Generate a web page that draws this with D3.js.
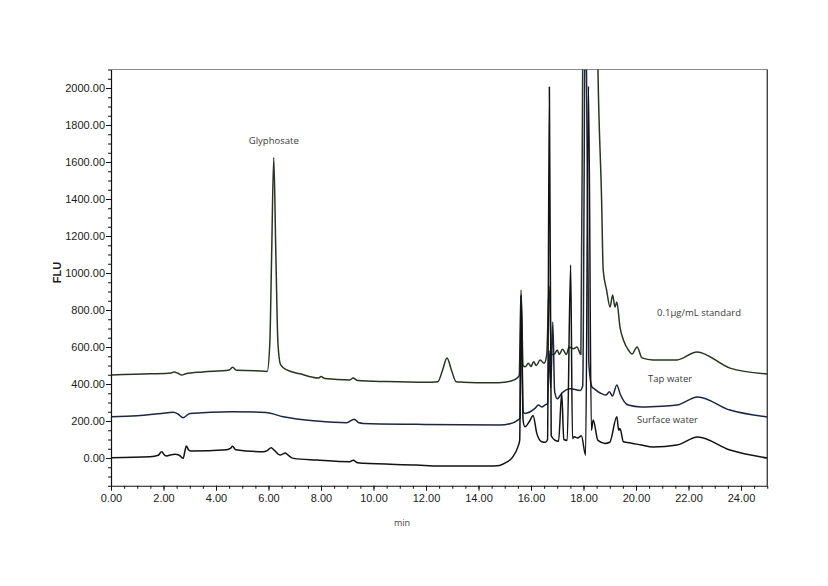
<!DOCTYPE html>
<html>
<head>
<meta charset="utf-8">
<script src="https://cdn.jsdelivr.net/npm/d3@7"></script>
<style>
  html, body { margin: 0; padding: 0; background: #fff; }
  svg { display: block; }
</style>
</head>
<body>
<svg id="chart" width="828" height="586"></svg>
<script>
// ---- data (retention time in min, signal in FLU) ----
const xMajorTicks = [0, 2, 4, 6, 8, 10, 12, 14, 16, 18, 20, 22, 24];
const yMajorTicks = [0, 200, 400, 600, 800, 1000, 1200, 1400, 1600, 1800, 2000];

const seriesNames = ["0.1μg/mL standard", "Tap water", "Surface water"];

const stdTime = [0.00, 1.50, 2.30, 2.40, 2.55, 2.70, 2.85, 3.50, 4.50, 4.63, 4.78, 5.50, 5.95, 6.05, 6.12, 6.20, 6.28, 6.36, 6.46, 6.70,
  7.20, 7.90, 8.00, 8.15, 9.10, 9.22, 9.40, 10.50, 12.00, 12.45, 12.62, 12.80, 12.98, 13.15, 13.40, 14.50, 15.00, 15.40, 15.55, 15.62,
  15.70, 15.78, 15.90, 16.00, 16.10, 16.20, 16.35, 16.50, 16.60, 16.69, 16.78, 16.88, 17.00, 17.08, 17.20, 17.35, 17.45, 17.62, 17.75, 17.90,
  17.98, 18.05, 18.45, 18.55, 18.69, 18.75, 18.88, 19.01, 19.11, 19.20, 19.27, 19.39, 19.52, 19.71, 19.85, 20.04, 20.23, 20.65, 21.56, 22.32,
  23.58, 25.00];
const stdFLU = [449, 455, 460, 465, 458, 448, 455, 465, 476, 490, 474, 472, 468, 620, 1100, 1625, 1100, 620, 505, 476,
  455, 432, 440, 430, 422, 432, 419, 413, 409, 412, 470, 540, 470, 412, 410, 407, 410, 425, 445, 908,
  500, 493, 512, 495, 520, 500, 530, 512, 560, 930, 560, 560, 584, 560, 588, 560, 600, 590, 600, 560,
  2400, 3200, 3200, 2103, 1395, 1016, 908, 816, 881, 816, 843, 708, 638, 584, 562, 600, 541, 530, 530, 573,
  486, 454];

const tapTime = [0.00, 1.00, 1.93, 2.37, 2.55, 2.75, 3.00, 4.60, 5.90, 6.56, 7.84, 8.98, 9.26, 9.45, 9.61, 11.65, 14.80, 15.20, 15.50, 15.58,
  15.63, 15.70, 15.77, 16.15, 16.28, 16.41, 16.53, 16.63, 16.69, 16.75, 16.83, 16.90, 17.00, 17.17, 17.50, 17.87, 17.97, 18.08, 18.20, 18.32,
  18.40, 18.65, 18.85, 18.99, 19.10, 19.27, 19.40, 19.70, 20.20, 21.00, 21.56, 22.35, 23.58, 25.00];
const tapFLU = [223, 228, 241, 247, 238, 218, 241, 250, 246, 223, 200, 191, 210, 190, 187, 182, 178, 185, 205, 215,
  880, 250, 241, 268, 286, 276, 286, 295, 580, 380, 735, 360, 320, 350, 375, 365, 390, 2700, 520, 385,
  375, 350, 340, 358, 335, 395, 345, 286, 276, 280, 286, 330, 259, 222];

const surfTime = [0.00, 1.49, 1.80, 1.93, 2.05, 2.12, 2.30, 2.44, 2.60, 2.75, 2.82, 2.87, 2.95, 3.05, 4.40, 4.55, 4.63, 4.75, 5.80, 5.95,
  6.10, 6.22, 6.44, 6.55, 6.63, 6.75, 6.95, 7.84, 9.10, 9.22, 9.40, 9.61, 11.65, 12.50, 14.40, 14.80, 15.00, 15.30, 15.50, 15.57,
  15.62, 15.70, 15.77, 15.95, 16.08, 16.22, 16.41, 16.55, 16.63, 16.70, 16.77, 16.91, 17.05, 17.17, 17.25, 17.38, 17.51, 17.58, 17.65, 17.78,
  17.92, 18.08, 18.19, 18.30, 18.37, 18.55, 18.82, 19.00, 19.27, 19.34, 19.39, 19.52, 19.84, 20.20, 20.65, 21.56, 22.35, 23.58, 25.00];
const surfFLU = [2, 7, 15, 34, 14, 11, 18, 20, 15, -2, 40, 65, 45, 38, 45, 52, 63, 45, 34, 40,
  56, 42, 16, 22, 27, 15, -2, -11, -20, -12, -26, -29, -38, -43, -43, -40, -28, 5, 60, 97,
  880, 200, 169, 200, 230, 133, 88, 85, 100, 2005, 120, 97, 90, 350, 100, 95, 1043, 105, 115, 108,
  120, 15, 2010, 150, 205, 95, 79, 85, 223, 150, 160, 88, 80, 70, 59, 70, 114, 43, 0];

const seriesColors = ["#27361f", "#1c2642", "#121212"];

// ---- layout ----
const svg = d3.select("#chart");
const margin = { left: 111, right: 60.75, top: 69.5, bottom: 100.25 };
const W = 828, H = 586;
const x = d3.scaleLinear().domain([0, 25]).range([margin.left, W - margin.right]);
const y = d3.scaleLinear().domain([-150, 2100]).range([H - margin.bottom, margin.top]);

svg.append("defs").append("clipPath").attr("id", "plotClip")
  .append("rect")
  .attr("x", x(0)).attr("y", y(2100))
  .attr("width", x(25) - x(0)).attr("height", y(-150) - y(2100));

// frame: top (gray) and right (black)
svg.append("line").attr("x1", x(0)).attr("x2", x(25)).attr("y1", y(2100)).attr("y2", y(2100))
  .attr("stroke", "#8a8a8a").attr("stroke-width", 1.2);
svg.append("line").attr("x1", x(25)).attr("x2", x(25)).attr("y1", y(2100)).attr("y2", y(-150))
  .attr("stroke", "#222").attr("stroke-width", 1.2);

// ---- traces ----
const traces = [
  { t: stdTime, v: stdFLU, color: seriesColors[0] },
  { t: tapTime, v: tapFLU, color: seriesColors[1] },
  { t: surfTime, v: surfFLU, color: seriesColors[2] }
];
const line = d3.line()
  .x(d => x(d[0]))
  .y(d => y(d[1]))
  .curve(d3.curveMonotoneX);

const g = svg.append("g").attr("clip-path", "url(#plotClip)");
traces.forEach(tr => {
  const pts = tr.t.map((t, i) => [t, tr.v[i]]);
  g.append("path").datum(pts)
    .attr("d", line)
    .attr("fill", "none")
    .attr("stroke", tr.color)
    .attr("stroke-width", 1.5)
    .attr("stroke-linejoin", "round");
});

// ---- axes ----
const xMinor = d3.range(0, 25.001, 0.5);
const yMinor = d3.range(-150, 2100.001, 50);

svg.append("g").attr("transform", `translate(0,${y(-150)})`)
  .call(d3.axisBottom(x).tickValues(xMinor).tickSize(3).tickFormat(""))
  .call(a => a.select(".domain").remove())
  .selectAll("line").attr("stroke", "#111");

const xAxis = svg.append("g").attr("transform", `translate(0,${y(-150)})`)
  .call(d3.axisBottom(x).tickValues(xMajorTicks).tickSize(5).tickPadding(3).tickSizeOuter(0)
    .tickFormat(d3.format(".2f")));
xAxis.select(".domain").attr("stroke", "#111").attr("stroke-width", 1.2);
xAxis.selectAll("line").attr("stroke", "#111");
xAxis.selectAll("text")
  .attr("font-family", "'Liberation Sans Narrow', 'Arial Narrow', 'Liberation Sans', Arial, sans-serif")
  .attr("font-size", 11).attr("fill", "#1a1a1a");

svg.append("g").attr("transform", `translate(${x(0)},0)`)
  .call(d3.axisLeft(y).tickValues(yMinor).tickSize(3).tickFormat(""))
  .call(a => a.select(".domain").remove())
  .selectAll("line").attr("stroke", "#111");

const yAxis = svg.append("g").attr("transform", `translate(${x(0)},0)`)
  .call(d3.axisLeft(y).tickValues(yMajorTicks).tickSize(5).tickPadding(1).tickSizeOuter(0)
    .tickFormat(d3.format(".2f")));
yAxis.select(".domain").attr("stroke", "#111").attr("stroke-width", 1.2);
yAxis.selectAll("line").attr("stroke", "#111");
yAxis.selectAll("text")
  .attr("font-family", "'Liberation Sans', Arial, sans-serif")
  .attr("font-size", 11).attr("fill", "#1a1a1a");

// axis titles
svg.append("text")
  .attr("transform", `translate(61,${(y(2100) + y(-150)) / 2 - 5}) rotate(-90)`)
  .attr("text-anchor", "middle")
  .attr("font-family", "'Liberation Sans', Arial, sans-serif")
  .attr("font-size", 11).attr("font-weight", "bold").attr("fill", "#1a1a1a")
  .text("FLU");
svg.append("text")
  .attr("x", 402).attr("y", 526)
  .attr("text-anchor", "middle")
  .attr("font-family", "'Open Sans', 'Noto Sans', sans-serif")
  .attr("font-size", 9).attr("fill", "#444")
  .text("min");

// ---- annotations ----
const annFont = "'Open Sans', 'Noto Sans', sans-serif";
const annotations = [
  { text: "Glyphosate", t: 6.2, v: 1700 },
  { text: seriesNames[0], t: 22.4, v: 770 },
  { text: seriesNames[1], t: 21.3, v: 410 },
  { text: seriesNames[2], t: 21.2, v: 190 }
];
annotations.forEach(a => {
  svg.append("text")
    .attr("x", x(a.t)).attr("y", y(a.v))
    .attr("text-anchor", "middle")
    .attr("font-family", annFont)
    .attr("font-size", 9.5).attr("fill", "#3a3a3a")
    .text(a.text);
});
</script>
</body>
</html>
